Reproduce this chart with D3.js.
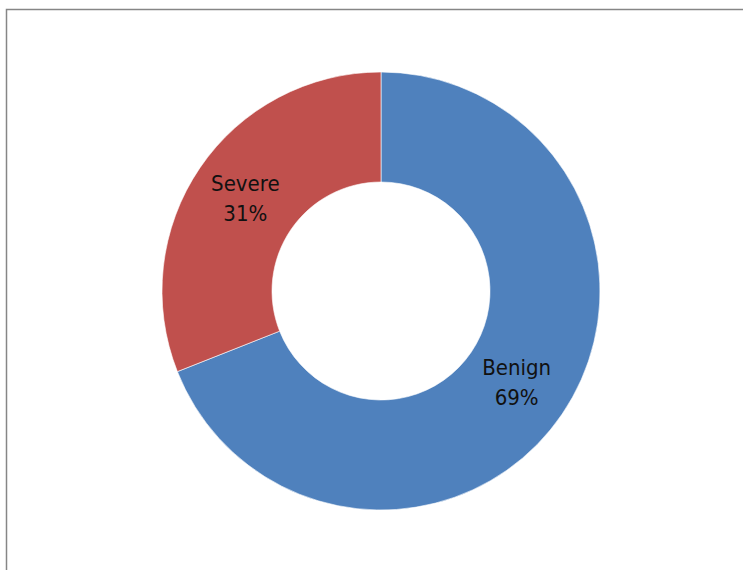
<!DOCTYPE html>
<html>
<head>
<meta charset="utf-8">
<script src="https://cdn.jsdelivr.net/npm/d3@7"></script>
<style>
  html, body { margin: 0; padding: 0; background: #fff; }
  svg { display: block; }
</style>
</head>
<body>
<svg id="chart" width="743" height="570"></svg>
<script>
// Share of cases by severity
const categories = ["Benign", "Severe"];
const values = [69, 31];
const colors = ["#4F81BD", "#C0504D"];

const svg = d3.select("#chart");

// Chart frame
svg.append("rect")
  .attr("x", 6.5).attr("y", 9.5)
  .attr("width", 760).attr("height", 600)
  .attr("fill", "#fff")
  .attr("stroke", "#868686")
  .attr("stroke-width", 1.5);

const cx = 381, cy = 291;
const outerR = 219, innerR = 109;

const pie = d3.pie().sort(null).value(d => d.value);
const arcs = pie(categories.map((c, i) => ({ name: c, value: values[i], color: colors[i] })));

const arc = d3.arc().innerRadius(innerR).outerRadius(outerR);
const labelArc = d3.arc().innerRadius((innerR + outerR) / 2).outerRadius((innerR + outerR) / 2);

const g = svg.append("g").attr("transform", `translate(${cx},${cy})`);

g.selectAll("path")
  .data(arcs)
  .join("path")
  .attr("d", arc)
  .attr("fill", d => d.data.color)
  .attr("stroke", "#fff")
  .attr("stroke-width", 0.6);

const total = d3.sum(values);
const labels = g.selectAll("text")
  .data(arcs)
  .join("text")
  .attr("transform", d => `translate(${labelArc.centroid(d)})`)
  .attr("text-anchor", "middle")
  .attr("font-family", "'DejaVu Sans Condensed', 'DejaVu Sans', sans-serif")
  .attr("font-size", 22)
  .attr("fill", "#111");

labels.append("tspan")
  .attr("x", 0).attr("y", -8)
  .text(d => d.data.name);
labels.append("tspan")
  .attr("x", 0).attr("y", 22)
  .text(d => Math.round(d.data.value / total * 100) + "%");
</script>
</body>
</html>
